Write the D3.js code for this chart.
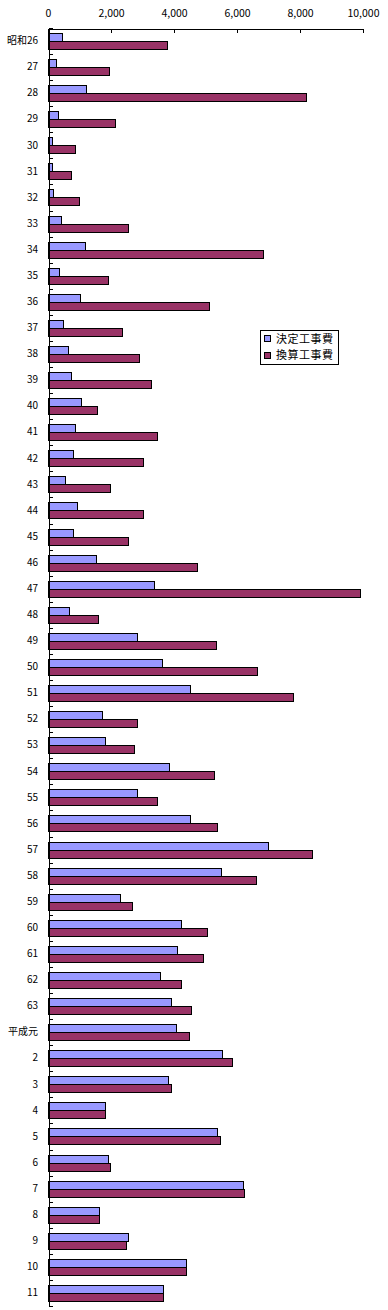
<!DOCTYPE html>
<html>
<head>
<meta charset="utf-8">
<script src="https://cdn.jsdelivr.net/npm/d3@7"></script>
<style>
  body { margin: 0; background: #fff; }
  text { font-family: "Noto Sans CJK JP", "DejaVu Sans", sans-serif; fill: #000; }
</style>
</head>
<body>
<div id="chart"></div>
<script>
const years = ['昭和26','27','28','29','30','31','32','33','34','35','36','37','38','39','40',
  '41','42','43','44','45','46','47','48','49','50','51','52','53','54','55','56','57','58',
  '59','60','61','62','63','平成元','2','3','4','5','6','7','8','9','10','11'];

// 決定工事費
const kettei = [440,265,1200,320,130,130,160,400,1160,350,1000,485,635,720,1035,
  845,780,530,910,780,1510,3350,675,2840,3630,4520,1720,1795,3855,2840,4520,6990,5500,
  2270,4225,4110,3540,3920,4075,5535,3820,1795,5375,1890,6200,1605,2555,4390,3665];

// 換算工事費
const kansan = [3770,1950,8180,2140,845,720,970,2555,6810,1890,5100,2365,2900,3260,1550,
  3475,3010,1955,3010,2555,4720,9915,1575,5320,6640,7770,2810,2715,5270,3475,5375,8385,6610,
  2680,5060,4930,4235,4550,4490,5850,3920,1825,5460,1955,6230,1605,2490,4390,3665];

const seriesNames = ['決定工事費', '換算工事費'];
const colors = ['#9999ff', '#993366'];
const xTicks = [0, 2000, 4000, 6000, 8000, 10000];

const W = 388, H = 1310;
const margin = {left: 48, right: 363, top: 28, bottom: 1306};

const svg = d3.select('#chart').append('svg')
    .attr('width', W)
    .attr('height', H);

const data = years.map((y, i) => ({year: y, vals: [kettei[i], kansan[i]]}));

const x = d3.scaleLinear().domain([0, 10000]).range([margin.left, margin.right]);
const y = d3.scaleBand().domain(years).range([margin.top, margin.bottom]).padding(0);
const sub = d3.scaleBand().domain([0, 1]).range([5, 21]).padding(0);
const idx = d3.scaleLinear().domain([0, years.length]).range([margin.top, margin.bottom]);

// bars
const groups = svg.selectAll('g.cat')
    .data(data)
    .join('g')
    .attr('class', 'cat')
    .attr('transform', d => `translate(0,${Math.round(y(d.year))})`);

groups.selectAll('rect')
    .data(d => d.vals.map((v, k) => ({v, k})))
    .join('rect')
    .attr('x', x(0) + 0.5)
    .attr('y', d => sub(d.k) + 0.5)
    .attr('width', d => Math.max(0, Math.round(x(d.v) - x(0))))
    .attr('height', sub.bandwidth())
    .attr('fill', d => colors[d.k])
    .attr('stroke', '#000')
    .attr('stroke-width', 1)
    .attr('shape-rendering', 'crispEdges');

// top axis
const xAxis = d3.axisTop(x)
    .tickValues(xTicks)
    .tickSizeInner(-4)
    .tickSizeOuter(0)
    .tickPadding(12)
    .tickFormat(d3.format(','));

svg.append('g')
    .attr('class', 'axis x-axis')
    .attr('transform', `translate(0,${margin.top + 0.5})`)
    .call(xAxis)
    .call(g => g.selectAll('line,path').attr('stroke', '#000').attr('shape-rendering', 'crispEdges'))
    .call(g => g.selectAll('text').attr('font-size', 10.5).attr('font-family', 'DejaVu Sans'));

// category axis: line with ticks at the slot boundaries
svg.append('g')
    .attr('transform', `translate(${margin.left + 0.5},0)`)
    .call(d3.axisRight(idx).tickValues(d3.range(years.length + 1)).tickSize(4).tickFormat(''))
    .call(g => g.selectAll('line,path').attr('stroke', '#000').attr('shape-rendering', 'crispEdges'));

svg.append('g')
    .attr('transform', `translate(${margin.left},0)`)
    .call(d3.axisLeft(y).tickSize(0).tickPadding(10))
    .call(g => g.select('.domain').remove())
    .call(g => g.selectAll('text').attr('font-size', 10).attr('font-family', '"Noto Sans CJK JP", sans-serif'));

// legend
const legend = svg.append('g').attr('transform', 'translate(260,330)');
legend.append('rect')
    .attr('x', 0.5).attr('y', 0.5)
    .attr('width', 78).attr('height', 34)
    .attr('fill', '#fff').attr('stroke', '#000')
    .attr('shape-rendering', 'crispEdges');

seriesNames.forEach((name, i) => {
  const row = legend.append('g').attr('transform', `translate(0,${9 + i * 16.5})`);
  row.append('rect')
      .attr('x', 4.5).attr('y', -3.5)
      .attr('width', 6).attr('height', 6)
      .attr('fill', colors[i]).attr('stroke', '#000')
      .attr('shape-rendering', 'crispEdges');
  row.append('text')
      .attr('x', 16).attr('y', 0)
      .attr('dy', '0.35em')
      .attr('font-size', 11)
      .attr('letter-spacing', 0.5)
      .text(name);
});
</script>
</body>
</html>
